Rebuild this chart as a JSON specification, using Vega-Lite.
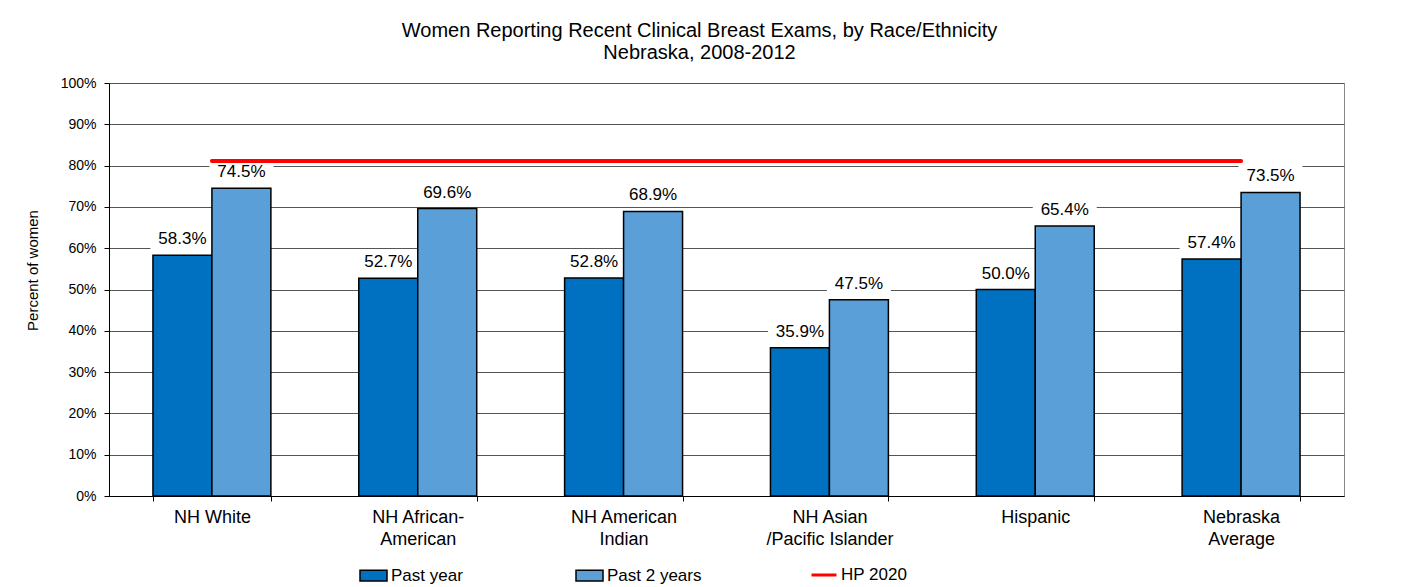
{
  "$schema": "https://vega.github.io/schema/vega-lite/v6.json",
  "autosize": {"type": "none"},
  "padding": {"left": 109, "top": 83, "right": 59, "bottom": 91},
  "width": 1235,
  "height": 413,
  "background": "white",
  "config": {
    "font": "Liberation Sans",
    "view": {"stroke": "#888888", "strokeWidth": 1}
  },
  "title": {
    "text": ["Women Reporting Recent Clinical Breast Exams, by Race/Ethnicity", "Nebraska, 2008-2012"],
    "fontSize": 20,
    "fontWeight": "normal",
    "font": "Liberation Sans",
    "color": "black",
    "lineHeight": 22,
    "anchor": "middle",
    "dx": -27,
    "offset": 13
  },
  "datasets": {
    "bars": [
      {"category": "NH White", "series": "Past year", "value": 0.583},
      {"category": "NH White", "series": "Past 2 years", "value": 0.745},
      {"category": "NH African-American", "series": "Past year", "value": 0.527},
      {"category": "NH African-American", "series": "Past 2 years", "value": 0.696},
      {"category": "NH American Indian", "series": "Past year", "value": 0.528},
      {"category": "NH American Indian", "series": "Past 2 years", "value": 0.689},
      {"category": "NH Asian /Pacific Islander", "series": "Past year", "value": 0.359},
      {"category": "NH Asian /Pacific Islander", "series": "Past 2 years", "value": 0.475},
      {"category": "Hispanic", "series": "Past year", "value": 0.500},
      {"category": "Hispanic", "series": "Past 2 years", "value": 0.654},
      {"category": "Nebraska Average", "series": "Past year", "value": 0.574},
      {"category": "Nebraska Average", "series": "Past 2 years", "value": 0.735}
    ],
    "hp": [
      {"category": "NH White", "series": "HP 2020", "value": 0.811},
      {"category": "Nebraska Average", "series": "HP 2020", "value": 0.811}
    ]
  },
  "encoding": {
    "x": {
      "field": "category",
      "type": "nominal",
      "sort": ["NH White", "NH African-American", "NH American Indian", "NH Asian /Pacific Islander", "Hispanic", "Nebraska Average"],
      "scale": {"paddingInner": 0.427, "paddingOuter": 0.2135},
      "axis": {
        "title": null,
        "labelAngle": 0,
        "labelFontSize": 18,
        "labelColor": "black",
        "labelFont": "Liberation Sans",
        "labelLineHeight": 22,
        "labelPadding": 7,
        "labelBaseline": "top",
        "tickBand": "extent",
        "tickSize": 5,
        "tickColor": "black",
        "domainColor": "black",
        "labelExpr": "datum.value == 'NH African-American' ? ['NH African-', 'American'] : datum.value == 'NH American Indian' ? ['NH American', 'Indian'] : datum.value == 'NH Asian /Pacific Islander' ? ['NH Asian', '/Pacific Islander'] : datum.value == 'Nebraska Average' ? ['Nebraska', 'Average'] : datum.value"
      }
    },
    "y": {
      "field": "value",
      "type": "quantitative",
      "scale": {"domain": [0, 1], "nice": false},
      "axis": {
        "values": [0, 0.1, 0.2, 0.3, 0.4, 0.5, 0.6, 0.7, 0.8, 0.9, 1],
        "format": ".0%",
        "title": "Percent of women",
        "titleFontSize": 15,
        "titleFontWeight": "normal",
        "titleColor": "black",
        "titlePadding": 20,
        "titleY": 187,
        "labelFontSize": 14,
        "labelColor": "black",
        "labelPadding": 8,
        "tickSize": 5,
        "tickColor": "black",
        "domainColor": "black",
        "gridColor": "#555555",
        "gridWidth": 1
      }
    }
  },
  "layer": [
    {
      "data": {"name": "bars"},
      "mark": {"type": "tick", "orient": "horizontal", "color": "white", "opacity": 1, "thickness": 22, "size": 64, "yOffset": -17},
      "encoding": {
        "xOffset": {"field": "series", "type": "nominal", "sort": ["Past year", "Past 2 years"], "scale": {"paddingInner": 0, "paddingOuter": 0}}
      }
    },
    {
      "data": {"name": "bars"},
      "mark": {"type": "bar", "stroke": "black", "strokeWidth": 1.5},
      "encoding": {
        "xOffset": {"field": "series", "type": "nominal", "sort": ["Past year", "Past 2 years"], "scale": {"paddingInner": 0, "paddingOuter": 0}},
        "color": {
          "field": "series",
          "type": "nominal",
          "scale": {"domain": ["Past year", "Past 2 years"], "range": ["#0070C0", "#5B9FD8"]},
          "legend": {
            "orient": "none",
            "legendX": 250,
            "legendY": 478,
            "direction": "horizontal",
            "title": null,
            "labelFontSize": 17,
            "labelColor": "black",
            "labelFont": "Liberation Sans",
            "labelOffset": 3,
            "symbolType": "M-1,-0.4H1V0.4H-1Z",
            "symbolSize": 729,
            "symbolStrokeColor": "black",
            "symbolStrokeWidth": 1.5,
            "symbolOpacity": 1,
            "columnPadding": 110
          }
        }
      }
    },
    {
      "data": {"name": "bars"},
      "mark": {"type": "text", "baseline": "alphabetic", "dy": -11, "fontSize": 17, "color": "black", "font": "Liberation Sans"},
      "encoding": {
        "xOffset": {"field": "series", "type": "nominal", "sort": ["Past year", "Past 2 years"], "scale": {"paddingInner": 0, "paddingOuter": 0}},
        "text": {"field": "value", "type": "quantitative", "format": ".1%"}
      }
    },
    {
      "data": {"name": "hp"},
      "mark": {"type": "line", "strokeWidth": 4, "strokeCap": "round"},
      "encoding": {
        "stroke": {
          "field": "series",
          "type": "nominal",
          "scale": {"domain": ["HP 2020"], "range": ["#FF0000"]},
          "legend": {
            "orient": "none",
            "legendX": 701,
            "legendY": 478,
            "direction": "horizontal",
            "title": null,
            "labelFontSize": 17,
            "labelColor": "black",
            "labelFont": "Liberation Sans",
            "labelOffset": 3,
            "symbolType": "stroke",
            "symbolSize": 625,
            "symbolStrokeWidth": 3,
            "symbolOpacity": 1
          }
        }
      }
    }
  ]
}
